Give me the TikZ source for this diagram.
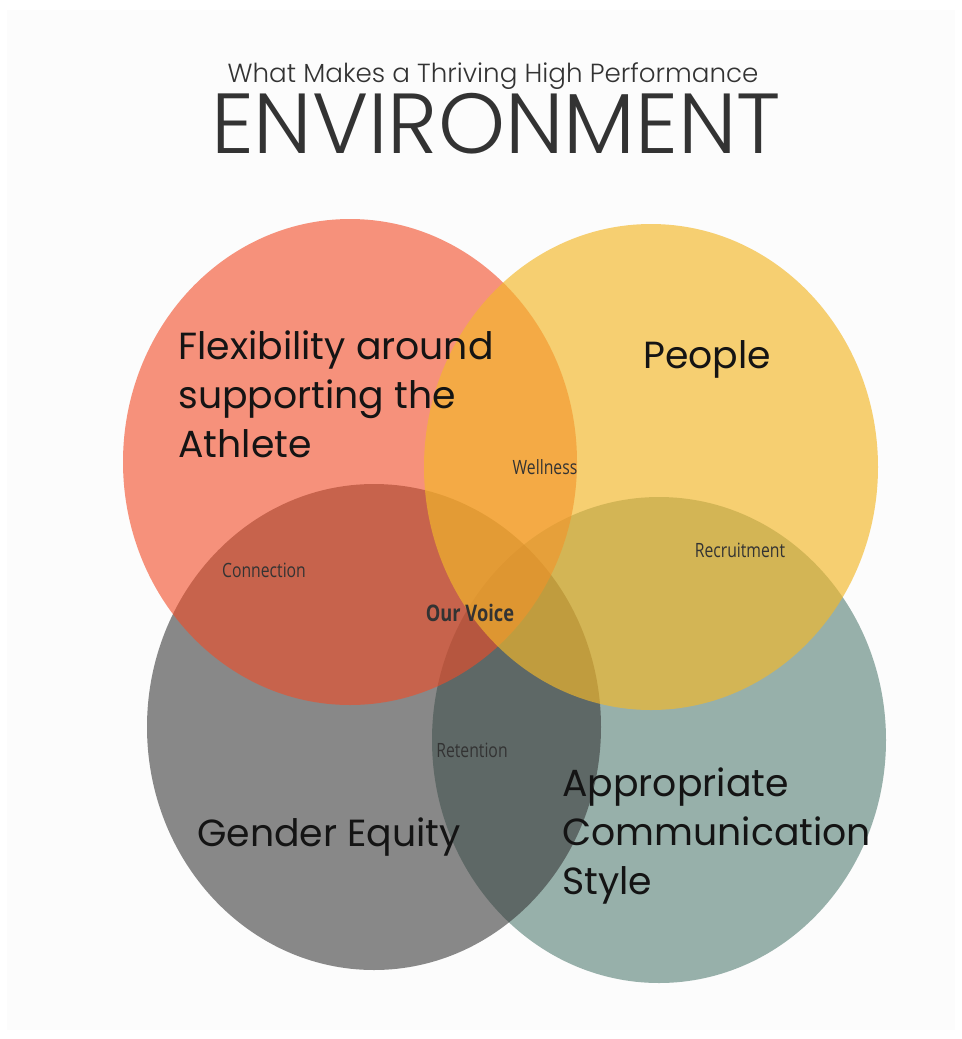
\documentclass[tikz,border=0pt]{standalone}
\usepackage{fontspec}
\setmainfont{Poppins}
\newfontfamily\thinfont{Poppins Light}
\newfontfamily\labelfont[FakeStretch=0.8]{Open Sans}
\usetikzlibrary{positioning}
\definecolor{paper}{HTML}{FCFCFC}
\definecolor{ink}{HTML}{333333}
\definecolor{coral}{RGB}{242,75,37}
\definecolor{sun}{RGB}{243,184,42}
\definecolor{slate}{RGB}{53,53,53}
\definecolor{sage}{RGB}{151,176,170}

\begin{document}
\begin{tikzpicture}[x=0.02cm,y=-0.02cm,
  big/.style={inner sep=0pt,text=black!92,font=\fontsize{21.5}{28}\selectfont,align=left,anchor=base west},
  small/.style={inner sep=0pt,text=ink,font=\labelfont\fontsize{11.2}{13}\selectfont,anchor=base}]
		% page
		\fill[white] (0,0) rectangle (962,1039);
		\fill[paper] (7,10) rectangle (955,1030);
		% title
		\node[inner sep=0pt,anchor=base,text=ink,font=\thinfont\fontsize{14.9}{17}\selectfont] (sub) at (493,82) {What Makes a Thriving High Performance};
		\node[inner sep=0pt,anchor=base,text=ink,font=\thinfont\fontsize{48.5}{50}\selectfont] (head) at (496,153) {ENVIRONMENT};
		% circles
		\fill[sage] (659,740) ellipse (227 and 243);
		\fill[slate,opacity=0.58] (374,727) ellipse (227 and 243);
		\fill[coral,opacity=0.6] (350,462) ellipse (227 and 243);
		\fill[sun,opacity=0.66] (651,467) ellipse (227 and 243);
		% big labels
		\node[big,anchor=north west] (flex) at (178,330) {Flexibility around\\supporting the\\Athlete};
		\node[big] (people) at (643,368) {People};
		\node[big] (gender) at (197,846) {Gender Equity};
		\node[big,anchor=north west] (comm) at (562,767) {Appropriate\\Communication\\Style};
		% overlaps
		\node[small] (well) at (545,474) {Wellness};
		\node[small] (recr) at (740,557) {Recruitment};
		\node[small] (conn) at (264,577) {Connection};
		\node[small,font=\labelfont\bfseries\fontsize{13}{15}\selectfont] (voice) at (470,621) {Our Voice};
		\node[small] (ret) at (472,757) {Retention};
\end{tikzpicture}
\end{document}
